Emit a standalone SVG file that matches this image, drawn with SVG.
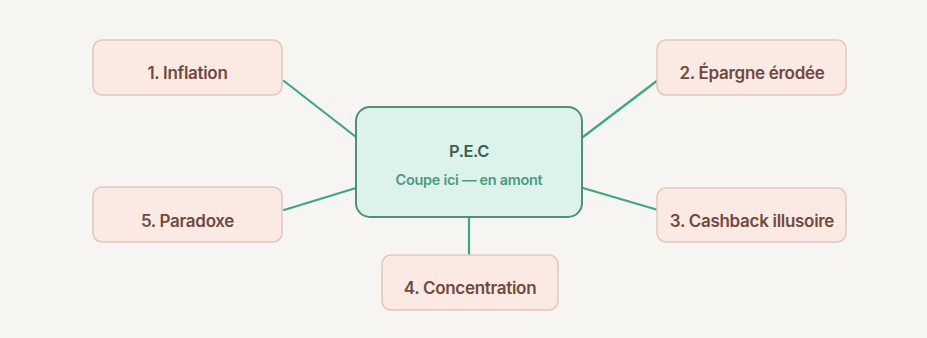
<svg xmlns="http://www.w3.org/2000/svg" width="927" height="338" viewBox="0 0 927 338">
<style>
.bg{fill:#f7f5f1}
.leaf rect{fill:#fbe9e3;stroke:#e3c7bd;stroke-width:1.5}
.leaf text{font-family:Inter,"Liberation Sans",sans-serif;font-size:17px;font-weight:600;letter-spacing:-0.3px;fill:#704a40;text-anchor:middle;dominant-baseline:central}
#center rect{fill:#dcf2ea;stroke:#4f907a;stroke-width:2}
#center text{font-family:Inter,"Liberation Sans",sans-serif;text-anchor:middle;dominant-baseline:central;font-weight:600}
.conn line{stroke:#3ea585;stroke-width:2.2;stroke-linecap:round}
</style>
<rect class="bg" x="0" y="0" width="927" height="338"/>
<g class="conn" id="connectors">
<line x1="284" y1="81" x2="356" y2="137"/>
<line x1="284" y1="210" x2="356" y2="188"/>
<line x1="583" y1="137" x2="658" y2="80"/>
<line x1="583" y1="188" x2="658" y2="210"/>
<line x1="469" y1="217" x2="469" y2="255"/>
</g>
<g id="center">
<rect x="356" y="107" width="226" height="110" rx="14"/>
<text x="469" y="151" font-size="16.5" fill="#3c5e51" letter-spacing="-0.4">P.E.C</text>
<text x="469" y="179" font-size="14.5" font-weight="500" fill="#4b9a7f" letter-spacing="-0.3">Coupe ici — en amont</text>
</g>
<g class="leaf" id="n1"><rect x="93" y="40" width="189" height="55" rx="9"/><text x="187.5" y="73">1. Inflation</text></g>
<g class="leaf" id="n2"><rect x="657" y="40" width="189" height="55" rx="9"/><text x="752" y="73">2. Épargne érodée</text></g>
<g class="leaf" id="n3"><rect x="657" y="188" width="189" height="54" rx="9"/><text x="752" y="221">3. Cashback illusoire</text></g>
<g class="leaf" id="n4"><rect x="382" y="255" width="176" height="55" rx="9"/><text x="470" y="288">4. Concentration</text></g>
<g class="leaf" id="n5"><rect x="93" y="187" width="189" height="55" rx="9"/><text x="187.5" y="221">5. Paradoxe</text></g>
</svg>
